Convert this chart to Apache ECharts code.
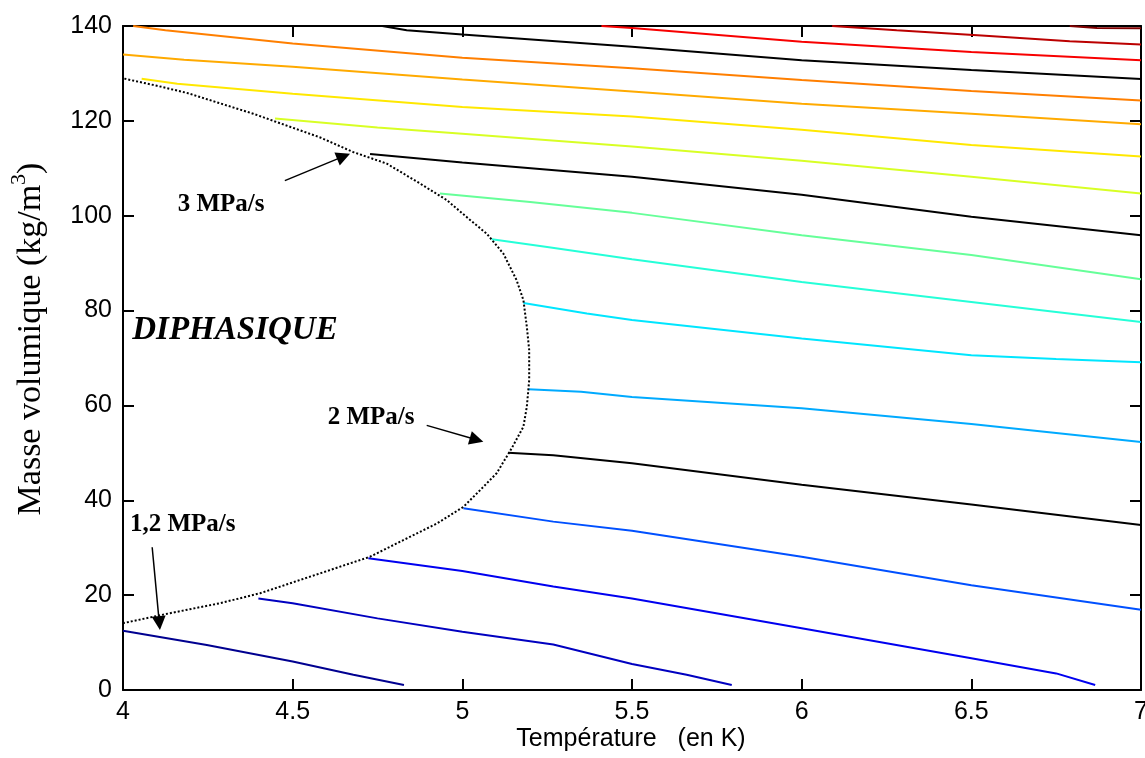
<!DOCTYPE html>
<html>
<head>
<meta charset="utf-8">
<script src="https://cdn.jsdelivr.net/npm/echarts/dist/echarts.min.js"></script>
<style>html,body{margin:0;padding:0;background:#fff}#chart{width:1145px;height:758px}</style>
</head>
<body>
<div id="chart"></div>
<script>
// ---- Axis ranges (tick labels 4..7 by 0.5, 0..140 by 20)
const xMin = 4, xMax = 7, xStep = 0.5;
const yMin = 0, yMax = 140, yStep = 20;

// ---- Contour lines [T (K), density (kg/m3)], bottom to top
const line01 = [[4,12.5],[4.247,9.5],[4.5,6.0],[4.679,3.2],[4.828,1.05]];
const line02 = [[4.399,19.3],[4.5,18.3],[4.75,15.1],[5,12.3],[5.268,9.6],[5.5,5.5],[5.661,3.2],[5.794,1.05]];
const line03 = [[4.723,27.8],[5,25.1],[5.268,21.8],[5.5,19.3],[6,13.0],[6.5,6.7],[6.75,3.5],[6.865,1.05]];
const line04 = [[5.003,38.3],[5.268,35.5],[5.5,33.6],[6,28.1],[6.5,22.1],[7,16.9]];
const line05 = [[5.135,50.0],[5.268,49.5],[5.5,47.8],[6,43.3],[6.5,39.1],[7,34.8]];
const line06 = [[5.195,63.4],[5.35,62.9],[5.5,61.8],[6,59.4],[6.5,56.1],[7,52.3]];
const line07 = [[5.18,81.6],[5.367,79.4],[5.5,78.0],[6,74.1],[6.5,70.6],[6.75,69.8],[7,69.1]];
const line08 = [[5.087,95.05],[5.25,93.4],[5.5,90.8],[6,86.0],[6.5,81.8],[7,77.6]];
const line09 = [[4.934,104.7],[5.2,102.9],[5.5,100.6],[6,95.9],[6.5,91.7],[7,86.6]];
const line10 = [[4.728,113.0],[5,111.2],[5.5,108.2],[6,104.4],[6.5,99.8],[7,95.9]];
const line11 = [[4.448,120.5],[4.75,118.6],[5,117.3],[5.5,114.6],[6,111.6],[6.5,108.2],[7,104.7]];
const line12 = [[4.055,128.9],[4.16,127.8],[4.5,125.7],[5,122.9],[5.5,120.9],[6,118.1],[6.5,114.9],[7,112.5]];
const line13 = [[4,134.0],[4.18,132.9],[4.5,131.4],[5,128.7],[5.5,126.2],[6,123.6],[6.5,121.5],[7,119.3]];
const line14 = [[4.03,140],[4.125,139.1],[4.5,136.3],[5,133.3],[5.5,131.1],[6,128.6],[6.5,126.3],[7,124.3]];
const line15 = [[4.764,140],[4.836,139.1],[5,138.2],[5.5,135.6],[6,132.8],[6.5,130.7],[7,128.8]];
const line16 = [[5.41,140],[5.5,139.6],[6,136.7],[6.5,134.5],[7,132.8]];
const line17 = [[6.09,140],[6.28,139.1],[6.53,138.0],[6.79,136.8],[7,136.1]];
const line18 = [[6.79,140],[6.87,139.6],[7,139.5]];

const lineColors = ['#000090','#0000c0','#0000f0','#0050ff','#000000','#00aaff','#00e6ff','#25ffd8','#66ff99','#000000',
                    '#d8ff25','#ffe800','#ffaa00','#ff7f00','#000000','#f80000','#bb0000','#800000'];

// ---- Saturation (two-phase) boundary, dotted
const saturation = [[4.004,128.9],[4.1,127.4],[4.188,125.9],[4.384,121.5],[4.581,116.5],[4.679,113.4],[4.777,111.0],
  [4.875,106.8],[4.954,103.3],[5.023,99.1],[5.072,96.2],[5.121,92.0],[5.16,86.4],[5.18,82.2],[5.19,76.6],[5.197,71.7],
  [5.197,65.3],[5.19,59.7],[5.18,55.5],[5.145,50.9],[5.101,45.7],[5.052,42.1],[5.003,38.6],[4.925,35.1],[4.826,31.6],
  [4.728,28.1],[4.581,24.6],[4.404,20.4],[4.286,18.3],[4.139,16.2],[4.001,14.1]];

// ---- Annotations
const annotationText = ['3 MPa/s','2 MPa/s','1,2 MPa/s','DIPHASIQUE'];
const annotationT = [4.289, 4.731, 4.176, 4.330];
const annotationRho = [102.4, 57.4, 34.9, 75.9];
const arrowFrom = [[4.477,107.4],[4.895,55.8],[4.086,30.1]];
const arrowTo = [[4.650,112.5],[5.042,52.75],[4.107,14.1]];

const contourLines = [line01,line02,line03,line04,line05,line06,line07,line08,line09,line10,
                      line11,line12,line13,line14,line15,line16,line17,line18];

const chart = echarts.init(document.getElementById('chart'), null, {renderer:'canvas'});

const series = contourLines.map((d, i) => ({
  type: 'line', data: d, symbol: 'none', showSymbol: false, silent: true,
  lineStyle: {color: lineColors[i], width: 2}, z: 2
}));
series.push({
  type: 'line', data: saturation, symbol: 'none', showSymbol: false, silent: true,
  lineStyle: {color: '#000', width: 2, type: [2, 2]}, z: 3,
  markLine: {
    silent: true, animation: false,
    symbol: ['none', 'triangle'], symbolSize: 14,
    label: {show: false},
    lineStyle: {color: '#000', width: 1.5, type: 'solid'},
    itemStyle: {color: '#000'},
    data: arrowFrom.map((a, i) => [{coord: a}, {coord: arrowTo[i]}])
  }
});

const axisCommon = {
  type: 'value', splitLine: {show: false},
  axisLine: {show: true, onZero: false, lineStyle: {color: '#000', width: 2}},
  axisTick: {show: true, inside: true, length: 11, lineStyle: {color: '#000', width: 2}}
};
const tickFont = {color: '#000', fontSize: 25, fontFamily: 'Liberation Sans, Arial, sans-serif'};

const option = {
  animation: false,
  backgroundColor: '#fff',
  grid: {left: 123, right: 4, top: 26, bottom: 68, containLabel: false, outerBoundsMode: 'none'},
  xAxis: [
    Object.assign({}, axisCommon, {position: 'bottom', min: xMin, max: xMax, interval: xStep,
      axisLabel: Object.assign({margin: 10}, tickFont)}),
    Object.assign({}, axisCommon, {position: 'top', min: xMin, max: xMax, interval: xStep, axisLabel: {show: false}})
  ],
  yAxis: [
    Object.assign({}, axisCommon, {position: 'left', min: yMin, max: yMax, interval: yStep,
      axisLabel: Object.assign({margin: 11}, tickFont)}),
    Object.assign({}, axisCommon, {position: 'right', min: yMin, max: yMax, interval: yStep, axisLabel: {show: false}})
  ],
  series: series
};
chart.setOption(option);

const graphics = annotationText.map((t, i) => {
  const p = chart.convertToPixel({gridIndex: 0}, [annotationT[i], annotationRho[i]]);
  const isBig = t === 'DIPHASIQUE';
  return {
    type: 'text', x: p[0], y: p[1], z: 10, silent: true,
    style: {
      text: t, fill: '#000',
      fontFamily: 'Liberation Serif, Times New Roman, serif',
      fontWeight: 'bold', fontStyle: isBig ? 'italic' : 'normal',
      fontSize: isBig ? 33 : 25,
      align: 'center', verticalAlign: 'middle', textAlign: 'center', textVerticalAlign: 'middle'
    }
  };
});
graphics.push({
  type: 'text', x: 631, y: 739, silent: true,
  style: {text: 'Température   (en K)', fill: '#000', fontFamily: 'Liberation Sans, Arial, sans-serif', fontSize: 25,
          align: 'center', verticalAlign: 'middle', textAlign: 'center', textVerticalAlign: 'middle'}
});
graphics.push({
  type: 'text', x: 31, y: 339, rotation: Math.PI / 2, silent: true,
  style: {text: 'Masse volumique (kg/m{s|3})', fill: '#000', fontFamily: 'Liberation Serif, Times New Roman, serif',
          fontSize: 34, lineHeight: 46,
          rich: {s: {fontSize: 22, lineHeight: 16, verticalAlign: 'top', fontFamily: 'Liberation Serif, Times New Roman, serif', fill: '#000'}},
          align: 'center', verticalAlign: 'middle', textAlign: 'center', textVerticalAlign: 'middle'}
});
chart.setOption({graphic: graphics});
</script>
</body>
</html>
